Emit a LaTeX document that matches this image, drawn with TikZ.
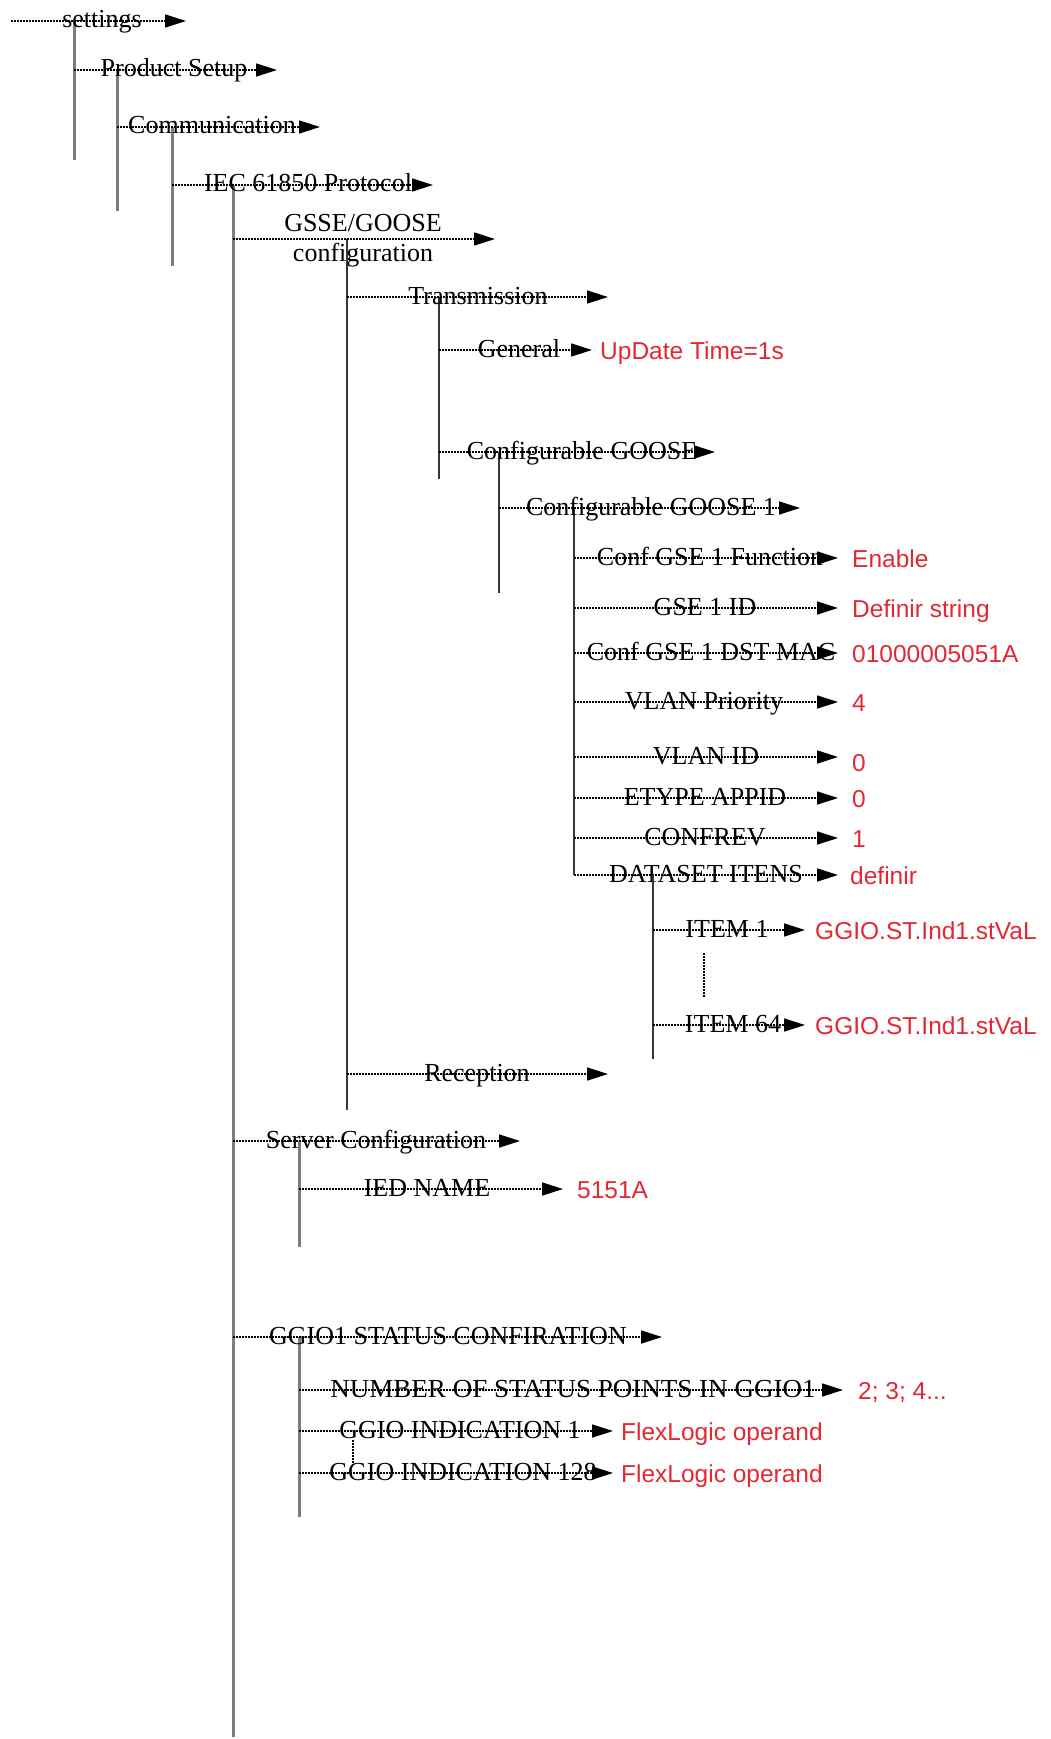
\documentclass[tikz,border=0pt]{standalone}
\usepackage{fontspec}
\setmainfont{Liberation Serif}
\newfontfamily\valfont{Liberation Sans}
\usetikzlibrary{arrows.meta}
\definecolor{valred}{RGB}{226,40,50}
\definecolor{treegray}{RGB}{125,125,125}
\definecolor{treedark}{RGB}{55,55,55}
\begin{document}
\begin{tikzpicture}[x=1pt,y=-1pt,
  lbl/.style={anchor=base, inner sep=0pt, font=\fontsize{26}{28}\selectfont},
  val/.style={anchor=base west, inner sep=0pt, text=valred, font=\valfont\fontsize{24.5}{26}\selectfont},
  branch/.style={dash pattern=on 1.5pt off 1.5pt, line width=1.6pt, -{Triangle[length=21pt,width=13pt]}},
  stem/.style={line width=3pt, draw=treegray},
  stemdark/.style={line width=2.2pt, draw=treedark},
  gapline/.style={dash pattern=on 1.5pt off 1.5pt, line width=1.6pt},
]
\useasboundingbox (0,0) rectangle (1051,1739);

% ---- level 0..3
\coordinate (s1) at (11,21);   \coordinate (t1) at (186,21);
\coordinate (s2) at (74,70);   \coordinate (t2) at (277,70);
\coordinate (s3) at (117,127); \coordinate (t3) at (320,127);
\coordinate (s4) at (172,185); \coordinate (t4) at (433,185);
\coordinate (a1) at (74,21);   \coordinate (a2) at (74,160);
\coordinate (b1) at (117,70);  \coordinate (b2) at (117,211);
\coordinate (c1) at (172,127); \coordinate (c2) at (172,266);
\coordinate (d1) at (233,185); \coordinate (d2) at (233,1737);

\draw[stem] (a1) -- (a2);
\draw[stem] (b1) -- (b2);
\draw[stem] (c1) -- (c2);
\draw[stem] (d1) -- (d2);

\draw[branch] (s1) -- (t1);
\draw[branch] (s2) -- (t2);
\draw[branch] (s3) -- (t3);
\draw[branch] (s4) -- (t4);
\node[lbl] (n1) at (102,28) {settings};
\node[lbl] (n2) at (174,77) {Product Setup};
\node[lbl] (n3) at (212,134) {Communication};
\node[lbl] (n4) at (308,192) {IEC 61850 Protocol};

% ---- GSSE/GOOSE configuration
\coordinate (s5) at (233,239); \coordinate (t5) at (495,239);
\coordinate (e1) at (347,239); \coordinate (e2) at (347,1110);
\draw[stemdark] (e1) -- (e2);
\draw[branch] (s5) -- (t5);
\node[lbl] (n5a) at (363,231) {GSSE/GOOSE};
\node[lbl] (n5b) at (363,261) {configuration};

% ---- Transmission
\coordinate (s6) at (347,297); \coordinate (t6) at (608,297);
\coordinate (f1) at (439,297); \coordinate (f2) at (439,479);
\draw[stemdark] (f1) -- (f2);
\draw[branch] (s6) -- (t6);
\node[lbl] (n6) at (478,304) {Transmission};

\coordinate (s7) at (439,350); \coordinate (t7) at (592,350);
\draw[branch] (s7) -- (t7);
\node[lbl] (n7) at (519,357) {General};
\node[val] (v7) at (600,359) {UpDate Time=1s};

\coordinate (s8) at (439,452); \coordinate (t8) at (715,452);
\coordinate (g1) at (499,452); \coordinate (g2) at (499,593);
\draw[stemdark] (g1) -- (g2);
\draw[branch] (s8) -- (t8);
\node[lbl] (n8) at (582,459) {Configurable GOOSE};

\coordinate (s9) at (499,508); \coordinate (t9) at (800,508);
\coordinate (h1) at (574,508); \coordinate (h2) at (574,875);
\draw[stemdark] (h1) -- (h2);
\draw[branch] (s9) -- (t9);
\node[lbl] (n9) at (651,515) {Configurable GOOSE 1};

% ---- GOOSE 1 parameters
\coordinate (s10) at (574,558); \coordinate (t10) at (838,558);
\coordinate (s11) at (574,608); \coordinate (t11) at (838,608);
\coordinate (s12) at (574,653); \coordinate (t12) at (838,653);
\coordinate (s13) at (574,702); \coordinate (t13) at (838,702);
\coordinate (s14) at (574,757); \coordinate (t14) at (838,757);
\coordinate (s15) at (574,798); \coordinate (t15) at (838,798);
\coordinate (s16) at (574,838); \coordinate (t16) at (838,838);
\coordinate (s17) at (574,875); \coordinate (t17) at (838,875);
\foreach \k in {10,...,17} {\draw[branch] (s\k) -- (t\k);}
\node[lbl] (n10) at (710,565) {Conf GSE 1 Function};
\node[lbl] (n11) at (705,615) {GSE 1 ID};
\node[lbl] (n12) at (711,660) {Conf GSE 1 DST MAC};
\node[lbl] (n13) at (704,709) {VLAN Priority};
\node[lbl] (n14) at (706,764) {VLAN ID};
\node[lbl] (n15) at (705,805) {ETYPE APPID};
\node[lbl] (n16) at (705,845) {CONFREV};
\node[lbl] (n17) at (706,882) {DATASET ITENS};
\node[val] (v10) at (852,567) {Enable};
\node[val] (v11) at (852,617) {Definir string};
\node[val] (v12) at (852,662) {01000005051A};
\node[val] (v13) at (852,711) {4};
\node[val] (v14) at (852,771) {0};
\node[val] (v15) at (852,807) {0};
\node[val] (v16) at (852,847) {1};
\node[val] (v17) at (850,884) {definir};

% ---- dataset items
\coordinate (i1) at (653,875); \coordinate (i2) at (653,1059);
\draw[stemdark] (i1) -- (i2);
\coordinate (s18) at (653,930);  \coordinate (t18) at (805,930);
\coordinate (s19) at (653,1025); \coordinate (t19) at (805,1025);
\draw[branch] (s18) -- (t18);
\draw[branch] (s19) -- (t19);
\node[lbl] (n18) at (727,937) {ITEM 1};
\node[lbl] (n19) at (733,1032) {ITEM 64};
\node[val] (v18) at (815,939) {GGIO.ST.Ind1.stVaL};
\node[val] (v19) at (815,1034) {GGIO.ST.Ind1.stVaL};
\coordinate (k1) at (704,953); \coordinate (k2) at (704,997);
\draw[gapline] (k1) -- (k2);

% ---- Reception
\coordinate (s20) at (347,1074); \coordinate (t20) at (608,1074);
\draw[branch] (s20) -- (t20);
\node[lbl] (n20) at (477,1081) {Reception};

% ---- Server configuration
\coordinate (s21) at (233,1141); \coordinate (t21) at (520,1141);
\coordinate (j1) at (299,1141);  \coordinate (j2) at (299,1247);
\draw[stem] (j1) -- (j2);
\draw[branch] (s21) -- (t21);
\node[lbl] (n21) at (376,1148) {Server Configuration};
\coordinate (s22) at (299,1189); \coordinate (t22) at (563,1189);
\draw[branch] (s22) -- (t22);
\node[lbl] (n22) at (427,1196) {IED NAME};
\node[val] (v22) at (577,1198) {5151A};

% ---- GGIO1 status
\coordinate (s23) at (233,1337); \coordinate (t23) at (662,1337);
\coordinate (m1) at (299,1337);  \coordinate (m2) at (299,1517);
\draw[stem] (m1) -- (m2);
\draw[branch] (s23) -- (t23);
\node[lbl] (n23) at (448,1344) {GGIO1 STATUS CONFIRATION};
\coordinate (s24) at (299,1390); \coordinate (t24) at (843,1390);
\coordinate (s25) at (299,1431); \coordinate (t25) at (613,1431);
\coordinate (s26) at (299,1473); \coordinate (t26) at (613,1473);
\draw[branch] (s24) -- (t24);
\draw[branch] (s25) -- (t25);
\draw[branch] (s26) -- (t26);
\node[lbl,xscale=1.04] (n24) at (573,1397) {NUMBER OF STATUS POINTS IN GGIO1};
\node[lbl] (n25) at (460,1438) {GGIO INDICATION 1};
\node[lbl] (n26) at (463,1480) {GGIO INDICATION 128};
\node[val] (v24) at (858,1399) {2; 3; 4...};
\node[val] (v25) at (621,1440) {FlexLogic operand};
\node[val] (v26) at (621,1482) {FlexLogic operand};
\coordinate (q1) at (353,1440); \coordinate (q2) at (353,1465);
\draw[gapline] (q1) -- (q2);
\end{tikzpicture}
\end{document}
